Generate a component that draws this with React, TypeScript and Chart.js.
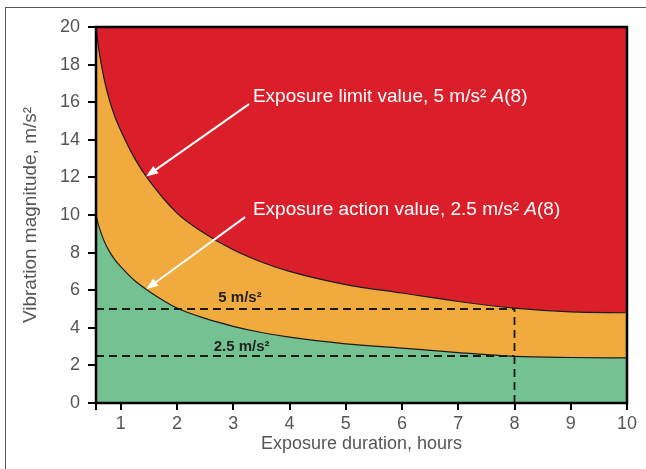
import { useEffect, useRef } from 'react';
import { Chart, registerables } from 'chart.js';

Chart.register(...registerables);

// Data
const hours = [0.56, 0.6, 0.7, 0.8, 0.9, 1, 1.25, 1.5, 2, 2.5, 3, 3.5, 4, 5, 6, 7, 8, 9, 10];
const limitValues = [20, 19.0, 17.3, 16.1, 15.2, 14.5, 13.0, 11.85, 10.1, 9.0, 8.15, 7.5, 7.0, 6.3, 5.85, 5.4, 5.05, 4.85, 4.8];
const actionValues = [10, 9.5, 8.65, 8.05, 7.6, 7.25, 6.5, 5.95, 5.05, 4.5, 4.08, 3.75, 3.5, 3.15, 2.92, 2.68, 2.48, 2.42, 2.4];
const xTicks = [1, 2, 3, 4, 5, 6, 7, 8, 9, 10];
const limitRef = 5;
const actionRef = 2.5;
const refHours = 8;

const xMin = hours[0];
const xMax = 10;
const yMin = 0;
const yMax = 20;

const FONT = '"Liberation Sans", Arial, Helvetica, sans-serif';
const RED = 'rgb(218,31,42)';
const ORANGE = 'rgb(241,170,62)';
const GREEN = 'rgb(116,193,146)';

type Seg = { text: string; italic?: boolean };
type Note = { x: number; y: number; align: 'left' | 'center'; color: string; size: number; bold: boolean; segs: Seg[] };

const notes: Note[] = [
  { x: 3.35, y: 16.3, align: 'left', color: '#ffffff', size: 19, bold: false,
    segs: [{ text: 'Exposure limit value, 5 m/s² ' }, { text: 'A', italic: true }, { text: '(8)' }] },
  { x: 3.35, y: 10.27, align: 'left', color: '#ffffff', size: 19, bold: false,
    segs: [{ text: 'Exposure action value, 2.5 m/s² ' }, { text: 'A', italic: true }, { text: '(8)' }] },
  { x: 3.12, y: 5.6, align: 'center', color: '#222222', size: 15, bold: true, segs: [{ text: '5 m/s²' }] },
  { x: 3.15, y: 2.98, align: 'center', color: '#222222', size: 15, bold: true, segs: [{ text: '2.5 m/s²' }] },
];

const arrows = [
  { from: { x: 3.28, y: 15.9 }, to: { x: 1.45, y: 12.05 } },
  { from: { x: 3.21, y: 9.89 }, to: { x: 1.45, y: 6.05 } },
];

const pts = (ys: number[]) => hours.map((h, i) => ({ x: h, y: ys[i] }));

const overlay = {
  id: 'overlay',
  afterDraw(chart: any) {
    const { ctx, chartArea, scales } = chart;
    const xs = scales.x;
    const ys = scales.y;
    ctx.save();
    for (const a of arrows) {
      const x1 = xs.getPixelForValue(a.from.x);
      const y1 = ys.getPixelForValue(a.from.y);
      const x2 = xs.getPixelForValue(a.to.x);
      const y2 = ys.getPixelForValue(a.to.y);
      const ang = Math.atan2(y2 - y1, x2 - x1);
      const hl = 12;
      const hw = 4.5;
      const bx = x2 - hl * Math.cos(ang);
      const by = y2 - hl * Math.sin(ang);
      ctx.strokeStyle = '#ffffff';
      ctx.fillStyle = '#ffffff';
      ctx.lineWidth = 2;
      ctx.beginPath();
      ctx.moveTo(x1, y1);
      ctx.lineTo(bx, by);
      ctx.stroke();
      ctx.beginPath();
      ctx.moveTo(x2, y2);
      ctx.lineTo(bx + hw * Math.sin(ang), by - hw * Math.cos(ang));
      ctx.lineTo(bx - hw * Math.sin(ang), by + hw * Math.cos(ang));
      ctx.closePath();
      ctx.fill();
    }
    for (const n of notes) {
      const fontFor = (s: Seg) => `${s.italic ? 'italic ' : ''}${n.bold ? 'bold ' : ''}${n.size}px ${FONT}`;
      let total = 0;
      for (const s of n.segs) {
        ctx.font = fontFor(s);
        total += ctx.measureText(s.text).width;
      }
      let x = xs.getPixelForValue(n.x);
      if (n.align === 'center') x -= total / 2;
      const y = ys.getPixelForValue(n.y);
      ctx.fillStyle = n.color;
      ctx.textBaseline = 'middle';
      ctx.textAlign = 'left';
      for (const s of n.segs) {
        ctx.font = fontFor(s);
        ctx.fillText(s.text, x, y);
        x += ctx.measureText(s.text).width;
      }
    }
    ctx.strokeStyle = '#000';
    ctx.lineWidth = 2.5;
    ctx.strokeRect(chartArea.left, chartArea.top, chartArea.right - chartArea.left, chartArea.bottom - chartArea.top);
    ctx.restore();
  },
};

export default function App() {
  const ref = useRef<HTMLCanvasElement | null>(null);
  useEffect(() => {
    if (!ref.current) return;
    const dashed = (data: { x: number; y: number }[]) => ({
      data,
      borderColor: '#1a1a1a',
      borderWidth: 1.8,
      borderDash: [8, 5],
      pointRadius: 0,
      fill: false,
      tension: 0,
    });
    const chart = new Chart(ref.current, {
      type: 'line',
      data: {
        datasets: [
          { data: pts(limitValues), borderColor: '#1a1a1a', borderWidth: 1.2, backgroundColor: RED, fill: 'end', pointRadius: 0, cubicInterpolationMode: 'monotone' },
          { data: pts(actionValues), borderColor: '#1a1a1a', borderWidth: 1.2, backgroundColor: ORANGE, fill: 0, pointRadius: 0, cubicInterpolationMode: 'monotone' },
          { data: pts(actionValues), borderWidth: 0, borderColor: 'rgba(0,0,0,0)', backgroundColor: GREEN, fill: 'origin', pointRadius: 0, cubicInterpolationMode: 'monotone' },
          dashed([{ x: xMin, y: limitRef }, { x: refHours, y: limitRef }]),
          dashed([{ x: xMin, y: actionRef }, { x: refHours, y: actionRef }]),
          dashed([{ x: refHours, y: yMin }, { x: refHours, y: limitRef }]),
        ] as any,
      },
      options: {
        responsive: false,
        animation: false,
        events: [],
        layout: { padding: { left: 0, right: 19, top: 27, bottom: 0 } },
        plugins: { legend: { display: false }, tooltip: { enabled: false }, filler: { drawTime: 'beforeDatasetsDraw' } },
        scales: {
          x: {
            type: 'linear',
            min: xMin,
            max: xMax,
            afterBuildTicks: (s: any) => { s.ticks = [xMin, ...xTicks].map((v) => ({ value: v })); },
            afterFit: (s: any) => { s.height = 66; },
            ticks: {
              autoSkip: false,
              maxRotation: 0,
              padding: 3,
              color: '#555',
              font: { family: FONT, size: 18 },
              callback: (v: any) => (xTicks.includes(Number(v)) ? String(v) : ''),
            },
            grid: { drawOnChartArea: false, drawTicks: true, tickLength: 7, color: '#000', lineWidth: 2 },
            border: { display: false },
            title: { display: true, text: 'Exposure duration, hours', color: '#555', font: { family: FONT, size: 18 }, padding: { top: 0, bottom: 14 } },
          },
          y: {
            min: yMin,
            max: yMax,
            afterFit: (s: any) => { s.width = 96; },
            ticks: { stepSize: 2, padding: 8, color: '#555', font: { family: FONT, size: 18 } },
            grid: { drawOnChartArea: false, drawTicks: true, tickLength: 8, color: '#000', lineWidth: 2 },
            border: { display: false },
            title: { display: true, text: 'Vibration magnitude, m/s²', color: '#555', font: { family: FONT, size: 19 }, padding: { top: 19, bottom: 0 } },
          },
        },
      } as any,
      plugins: [overlay],
    });
    return () => chart.destroy();
  }, []);
  return (
    <div style={{ position: 'fixed', left: 0, top: 0, width: 646, height: 469, background: '#fff', overflow: 'hidden' }}>
      <div style={{ position: 'absolute', left: 5, top: 7, width: 641, height: 462, borderLeft: '1px solid #555', borderTop: '1px solid #555' }} />
      <canvas ref={ref} width={646} height={469} style={{ position: 'absolute', left: 0, top: 0, display: 'block' }} />
    </div>
  );
}
